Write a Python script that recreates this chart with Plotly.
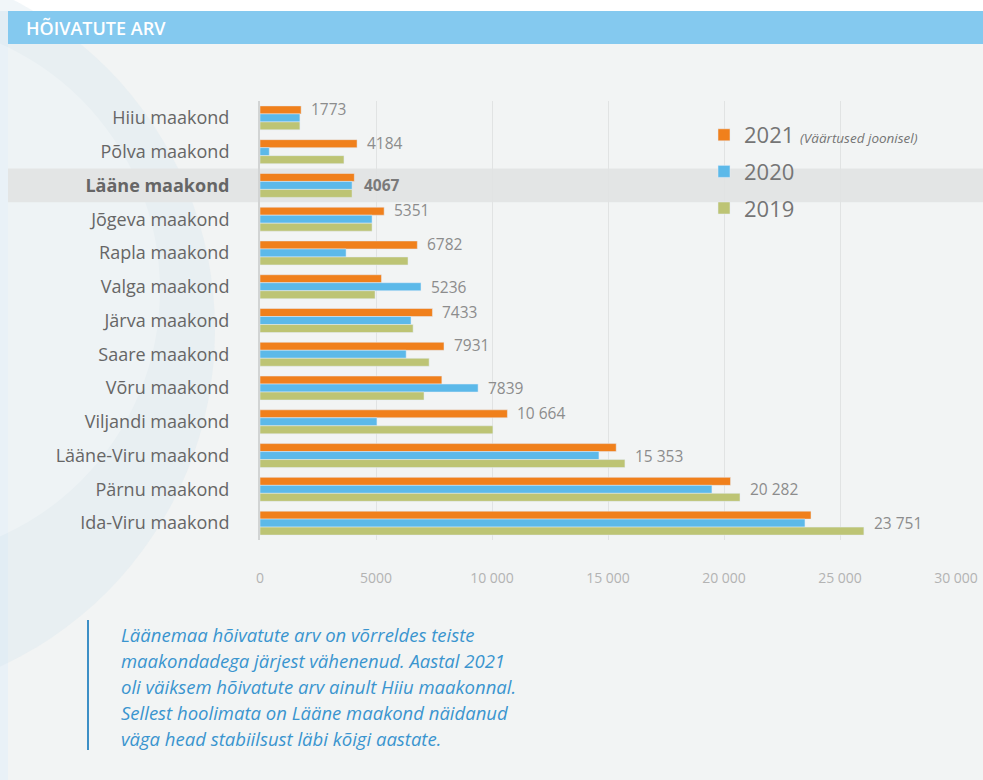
import plotly.graph_objects as go

# ---------------- data ----------------
categories = ["Hiiu maakond", "Põlva maakond", "Lääne maakond", "Jõgeva maakond",
              "Rapla maakond", "Valga maakond", "Järva maakond", "Saare maakond",
              "Võru maakond", "Viljandi maakond", "Lääne-Viru maakond",
              "Pärnu maakond", "Ida-Viru maakond"]
v2021 = [1773, 4184, 4067, 5351, 6782, 5236, 7433, 7931, 7839, 10664, 15353, 20282, 23751]
v2020 = [1720, 400, 3970, 4830, 3710, 6940, 6510, 6300, 9400, 5040, 14610, 19480, 23490]
v2019 = [1720, 3620, 3970, 4830, 6380, 4960, 6600, 7290, 7070, 10040, 15730, 20690, 26030]
label_2021 = ["1773", "4184", "4067", "5351", "6782", "5236", "7433", "7931", "7839",
              "10 664", "15 353", "20 282", "23 751"]
tick_vals = [0, 5000, 10000, 15000, 20000, 25000, 30000]
tick_text = ["0", "5000", "10 000", "15 000", "20 000", "25 000", "30 000"]
highlight = "Lääne maakond"
title_text = "HÕIVATUTE ARV"
note_lines = ["Läänemaa hõivatute arv on võrreldes teiste",
              "maakondadega järjest vähenenud. Aastal 2021",
              "oli väiksem hõivatute arv ainult Hiiu maakonnal.",
              "Sellest hoolimata on Lääne maakond näidanud",
              "väga head stabiilsust läbi kõigi aastate."]

C21, C20, C19 = "#f0801c", "#5cb9e9", "#bdc474"

# ---------------- geometry (page pixels -> paper) ----------------
W, H = 983, 780
PL, PR, PT, PB = 260, 956, 101, 540   # plot area in pixels


def px(x):
    return (x - PL) / (PR - PL)


def py(y):
    return (PB - y) / (PB - PT)


fig = go.Figure()
fig.add_trace(go.Bar(y=categories, x=v2021, orientation="h", marker_color=C21,
                     name="2021 <i><span style='font-size:13.5px'>(Väärtused joonisel)</span></i>",
                     legendgroup="a", hoverinfo="x+y"))
fig.add_trace(go.Bar(y=categories, x=v2020, orientation="h", marker_color=C20,
                     name="2020", legendgroup="b", hoverinfo="x+y"))
fig.add_trace(go.Bar(y=categories, x=v2019, orientation="h", marker_color=C19,
                     name="2019", legendgroup="c", hoverinfo="x+y"))

shapes = [
    # panel background
    dict(type="rect", xref="paper", yref="paper", x0=px(8), x1=px(W + 5), y0=py(H + 5), y1=py(11),
         fillcolor="#f2f4f4", line_width=0, layer="below"),
    # left strip
    dict(type="rect", xref="paper", yref="paper", x0=px(-5), x1=px(8), y0=py(H + 5), y1=py(11),
         fillcolor="#e9f1f7", line_width=0, layer="below"),
    # faint decorative circles
    dict(type="circle", xref="paper", yref="paper", x0=px(-520), x1=px(215), y0=py(700), y1=py(-40),
         fillcolor="rgba(214,228,238,0.35)", line_width=0, layer="below"),
    dict(type="circle", xref="paper", yref="paper", x0=px(-380), x1=px(160), y0=py(560), y1=py(20),
         fillcolor="rgba(255,255,255,0.25)", line_width=0, layer="below"),
    # header band
    dict(type="rect", xref="paper", yref="paper", x0=px(8), x1=px(W + 5), y0=py(44), y1=py(11),
         fillcolor="#84c9ef", line_width=0, layer="below"),
    # highlight band
    dict(type="rect", xref="paper", yref="y", x0=px(8), x1=px(W + 5),
         y0=categories.index(highlight) - 0.5, y1=categories.index(highlight) + 0.5,
         fillcolor="#e3e5e5", line_width=0, layer="below"),
    # note vertical line
    dict(type="line", xref="paper", yref="paper", x0=px(88), x1=px(88), y0=py(620), y1=py(750),
         line=dict(color="#3d8fc6", width=2)),
]

annotations = [
    dict(text=title_text, xref="paper", yref="paper", x=px(24), y=py(28), xanchor="left",
         yanchor="middle", showarrow=False,
         font=dict(family="Open Sans", size=18, color="white", weight=600)),
]

# value labels for 2021
for i, cat in enumerate(categories):
    mx = max(v2021[i], v2020[i], v2019[i])
    at_center = (cat == highlight) or (v2021[i] < mx)
    annotations.append(dict(
        text=("<b>%s</b>" % label_2021[i]) if cat == highlight else label_2021[i],
        x=mx, y=cat, xref="x", yref="y", xanchor="left", yanchor="middle",
        xshift=8, yshift=0 if at_center else 9, showarrow=False,
        font=dict(family="Open Sans", size=15.5,
                  color="#7a7a7a" if cat == highlight else "#8c8c8c")))

# note text
for k, line in enumerate(note_lines):
    annotations.append(dict(
        text="<i>%s</i>" % line, xref="paper", yref="paper", x=px(119), y=py(634 + 26 * k),
        xanchor="left", yanchor="middle", showarrow=False,
        font=dict(family="Open Sans", size=18.5, color="#3a95cf")))

tick_cat = [("<b>%s</b>" % c) if c == highlight else c for c in categories]

fig.update_layout(
    width=W, height=H,
    margin=dict(l=PL, r=W - PR, t=PT, b=H - PB, autoexpand=False),
    paper_bgcolor="white", plot_bgcolor="rgba(0,0,0,0)",
    barmode="group", bargap=0.29, bargroupgap=0,
    font=dict(family="Open Sans", color="#666666"),
    showlegend=True,
    legend=dict(x=px(704), y=py(114), xanchor="left", yanchor="top",
                bgcolor="rgba(0,0,0,0)", traceorder="grouped", tracegroupgap=5,
                font=dict(family="Open Sans", size=22, color="#757575"),
                itemwidth=30),
    shapes=shapes, annotations=annotations,
    xaxis=dict(range=[0, 30000], tickvals=tick_vals, ticktext=tick_text,
               showgrid=True, gridcolor="#e1e3e3", gridwidth=1, zeroline=False,
               showline=False, ticks="", ticklabelstandoff=28, automargin=False,
               tickfont=dict(family="Open Sans", size=14, color="#b3b3b3"), fixedrange=True),
    yaxis=dict(type="category", autorange="reversed", tickvals=categories, ticktext=tick_cat,
               showgrid=False, zeroline=False, showline=True, linecolor="#d2d4d4", linewidth=2,
               ticks="", ticklabelstandoff=25, automargin=False,
               tickfont=dict(family="Open Sans", size=18, color="#666666"), fixedrange=True),
)

fig.write_html(
    "out.html",
    config={"displayModeBar": False},
    post_script="document.body.style.margin='0';"
                "document.documentElement.style.overflow='hidden';"
                "document.body.style.overflow='hidden';",
)
